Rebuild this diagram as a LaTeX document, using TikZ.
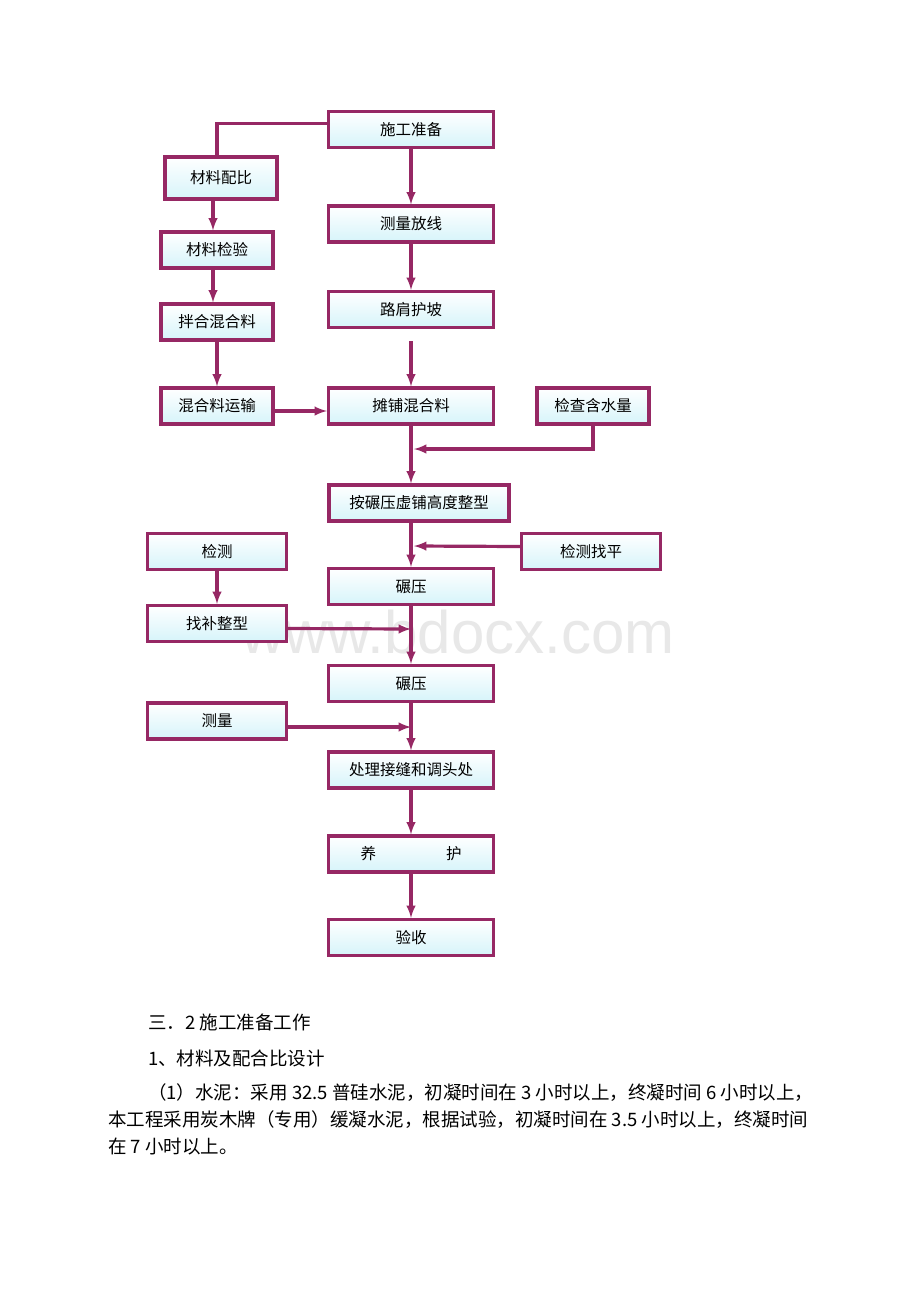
\documentclass[tikz,border=0pt]{standalone}
\usepackage{fontspec}
\newfontfamily\cjk{Noto Sans CJK SC}
\newfontfamily\wmfont{Liberation Sans}
\definecolor{pline}{RGB}{150,40,100}
\definecolor{pfill}{RGB}{214,244,250}
\begin{document}
\begin{tikzpicture}[x=1pt,y=-1pt,
    box/.style={draw=pline,line width=3.2pt,top color=white,bottom color=pfill,
      minimum width=165pt,minimum height=36pt,inner sep=0pt,font=\cjk\fontsize{15.5}{15.5}\selectfont},
    sbox/.style={box,minimum width=112pt},
    lbox/.style={box,minimum width=139pt},
    lnk/.style={pline,line width=3.2pt},
    arr/.style={lnk,-latex}]
  \useasboundingbox[fill=white] (0,0) rectangle (920,1302);
  \node[gray!18,font=\wmfont\fontsize{60}{60}\selectfont] (wm) at (458,632) {www.bdocx.com};
  % main column
  \node[box] (sg) at (411,129.5) {施工准备};
  \node[box] (cl) at (411,224) {测量放线};
  \node[box] (lj) at (411,309.5) {路肩护坡};
  \node[box] (tp) at (411,406) {摊铺混合料};
  \node[box,minimum width=180pt] (zx) at (419,503) {按碾压虚铺高度整型};
  \node[box] (ny1) at (411,586.5) {碾压};
  \node[box] (ny2) at (411,683.5) {碾压};
  \node[box] (cj) at (411,770) {处理接缝和调头处};
  \node[box] (yh) at (411,854) {养\hspace{70pt}护};
  \node[box] (ys) at (411,937.5) {验收};
  % left column
  \node[sbox,minimum height=42pt] (pb) at (221,178) {材料配比};
  \node[sbox] (jy) at (217,250) {材料检验};
  \node[sbox] (bh) at (217,322) {拌合混合料};
  \node[sbox] (ys2) at (217,406) {混合料运输};
  \node[lbox] (jc) at (217,551.5) {检测};
  \node[lbox] (zb) at (217,623.5) {找补整型};
  \node[lbox] (cm) at (217,721) {测量};
  % right column
  \node[sbox] (hs) at (593,406) {检查含水量};
  \node[lbox] (zp) at (591,551.5) {检测找平};
  \coordinate (gap) at (411,341);
  % connectors
  \draw[arr] (sg) -- (cl);
  \draw[arr] (cl) -- (lj);
  \draw[arr] (gap) -- (tp.north);
  \draw[arr] (tp.south) -- (tp.south |- zx.north);
  \draw[arr] (tp.south |- zx.south) -- (ny1.north);
  \draw[arr] (ny1) -- (ny2);
  \draw[arr] (ny2) -- (cj);
  \draw[arr] (cj) -- (yh);
  \draw[arr] (yh) -- (ys);
  \draw[lnk] ([yshift=6pt]sg.west) -| ([xshift=-4pt]pb.north);
  \draw[arr] ([xshift=-8pt]pb.south) -- ([xshift=-4pt]jy.north);
  \draw[arr] ([xshift=-4pt]jy.south) -- ([xshift=-4pt]bh.north);
  \draw[arr] (bh) -- (ys2);
  \draw[arr] ([yshift=-5pt]ys2.east) -- ([yshift=-5pt]tp.west);
  \draw[arr] (hs.south) |- ([xshift=3pt]tp.south |- 0,449);
  \draw[arr] ([yshift=5pt]zp.west) -- ([xshift=3pt]tp.south |- 0,546);
  \draw[arr] (jc) -- (zb);
  \draw[arr] ([yshift=-5pt]zb.east) -- (tp.south |- 0,629);
  \draw[arr] ([yshift=-6pt]cm.east) -- (tp.south |- 0,727);
  % text below
  \begin{scope}[every node/.style={anchor=west,inner sep=0pt,font=\cjk\fontsize{18.5}{18.5}\selectfont}]
    \node (t1) at (148,1022) {三．2 施工准备工作};
    \node (t2) at (148,1058) {1、材料及配合比设计};
    \node (t3) at (108,1093) {\hspace{40pt}（1）水泥：采用 32.5 普硅水泥，初凝时间在 3 小时以上，终凝时间 6 小时以上，};
    \node (t4) at (108,1120) {本工程采用炭木牌（专用）缓凝水泥，根据试验，初凝时间在 3.5 小时以上，终凝时间};
    \node (t5) at (108,1147) {在 7 小时以上。};
  \end{scope}
\end{tikzpicture}
\end{document}
